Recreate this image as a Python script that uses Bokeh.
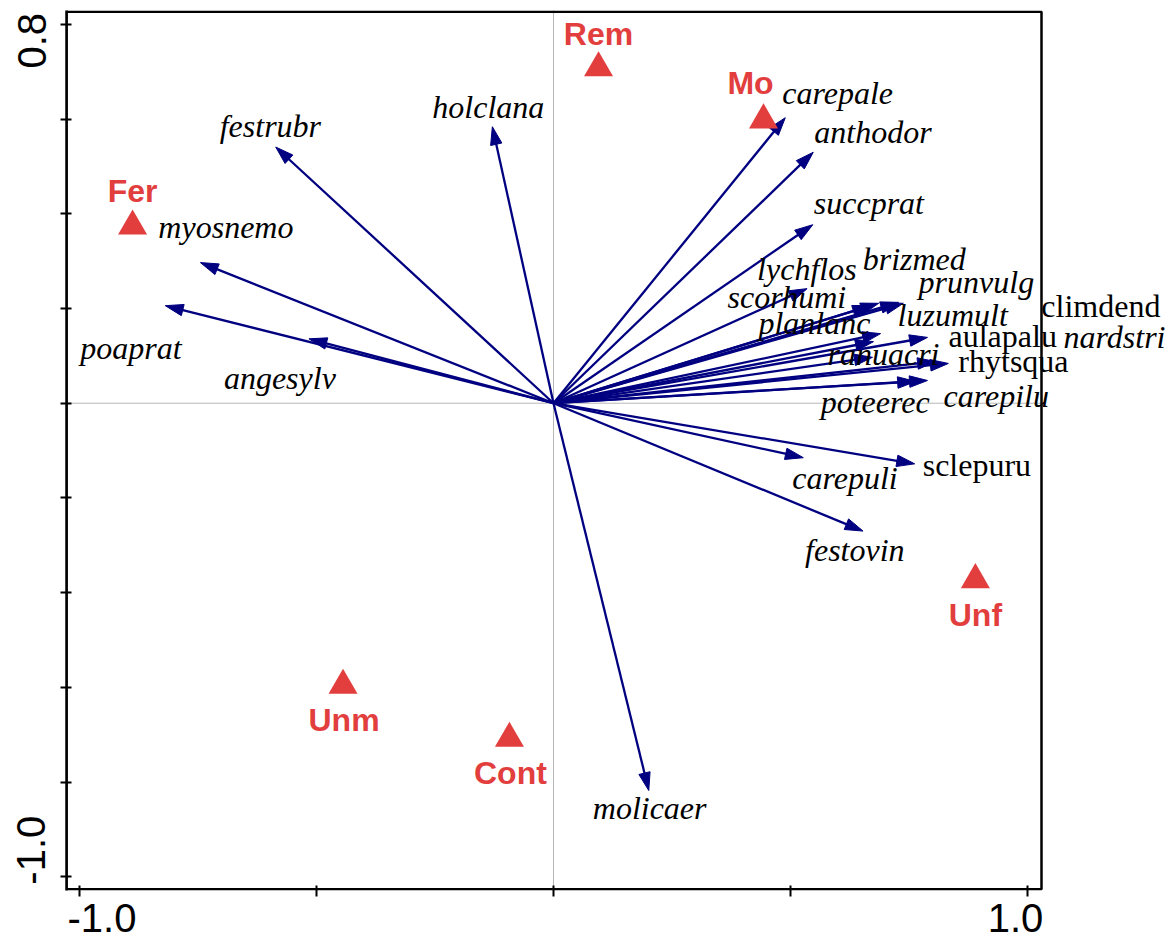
import math
from bokeh.plotting import figure
from bokeh.core.properties import value
from bokeh.models import (Range1d, FixedTicker, ColumnDataSource, LabelSet, Span,
                          LinearAxis, BoxAnnotation)
from bokeh.embed import file_html
from bokeh.resources import INLINE

# ---------------- data ----------------
species = ["festrubr", "myosnemo", "poaprat", "angesylv", "holclana", "carepale",
           "anthodor", "succprat", "lychflos", "brizmed", "prunvulg", "scorhumi",
           "climdend", "planlanc", "luzumult", "aulapalu", "nardstri", "ranuacri",
           "rhytsqua", "poteerec", "carepilu", "carepuli", "sclepuru", "festovin",
           "molicaer"]
species_ax1 = [-0.586, -0.745, -0.819, -0.516, -0.129, 0.489,
               0.548, 0.547, 0.535, 0.686, 0.728, 0.669,
               0.738, 0.675, 0.690, 0.789, 0.806, 0.673,
               0.833, 0.764, 0.789, 0.527, 0.762, 0.653,
               0.201]
species_ax2 = [0.541, 0.297, 0.206, 0.136, 0.584, 0.603,
               0.530, 0.377, 0.242, 0.211, 0.213, 0.206,
               0.211, 0.130, 0.147, 0.139, 0.088, 0.097,
               0.084, 0.046, 0.048, -0.115, -0.128, -0.270,
               -0.818]
mosses = ["climdend", "aulapalu", "rhytsqua", "sclepuru"]

groups = ["Rem", "Mo", "Fer", "Unf", "Unm", "Cont"]
group_ax1 = [0.095, 0.443, -0.888, 0.890, -0.444, -0.093]
group_ax2 = [0.708, 0.598, 0.374, -0.373, -0.596, -0.708]

x_ticks = [-1.0, -0.5, 0.0, 0.5, 1.0]
y_ticks = [-1.0, -0.8, -0.6, -0.4, -0.2, 0.0, 0.2, 0.4, 0.6, 0.8]
x_tick_labels = {-1.0: "-1.0", 1.0: "1.0"}
y_tick_labels = {0.8: "0.8", -1.0: "-1.0"}

# ---------------- layout / style ----------------
BOX_X = (-1.0274, 1.0295)     # visible plotting box
BOX_Y = (-1.0291, 0.8294)
BOX_W, BOX_H = 975, 880       # pixels of the box
B_LEFT, B_TOP, B_BOTTOM = 66, 10, 52
RIGHT_EXTRA = 128             # room right of the box for labels
NAVY = "#000080"
RED = "#E23E3E"
HEAD_L, HEAD_W = 18.0, 11.5
BORDER_W = 2.5

kx = BOX_W / (BOX_X[1] - BOX_X[0])
ky = BOX_H / (BOX_Y[1] - BOX_Y[0])
x_range_max = BOX_X[1] + RIGHT_EXTRA / kx

# label offsets in screen pixels (dx right, dy down) relative to arrow tips
species_label_dx = [-56, -42, -85, -85, -60, -3,
                    1, 1, -50, -16, 20, -143,
                    138, -115, 17, 21, 128, -45,
                    10, -95, 16, -11, 8, -58,
                    -56]
species_label_dy = [-10, -25, 53, 50, -9, -14,
                    -9, -11, -9, -33, -9, 2,
                    14, -8, -8, 10, -14, 8,
                    9, 32, 27, 31, 12, 30,
                    28]
group_label_dx = [0, -13, 0, 0, 1, 1]
group_label_dy = [-23, -26, -24, 46, 46, 46]
# tick labels sit slightly inside their ticks, as in the original
x_label_shift_px = {-1.0: 22.5, 1.0: -12}     # to the right (label centre)
y_label_shift_px = {0.8: 11.5, -1.0: 61}      # upwards (end of rotated label)

p = figure(width=B_LEFT + BOX_W + RIGHT_EXTRA, height=B_TOP + BOX_H + B_BOTTOM,
           x_range=Range1d(BOX_X[0], x_range_max), y_range=Range1d(*BOX_Y),
           output_backend="svg", toolbar_location=None,
           min_border_left=B_LEFT, min_border_right=0,
           min_border_top=B_TOP, min_border_bottom=B_BOTTOM,
           background_fill_color="white", border_fill_color="white")
p.grid.visible = False
p.outline_line_color = None

# inner axes: tick marks only
for ax, ticks in ((p.xaxis[0], x_ticks), (p.yaxis[0], y_ticks)):
    ax.ticker = FixedTicker(ticks=ticks, minor_ticks=[])
    ax.axis_line_width = BORDER_W
    ax.axis_line_color = "black"
    ax.major_tick_line_width = 2
    ax.major_tick_line_color = "black"
    ax.major_tick_out = 6
    ax.major_tick_in = 5
    ax.minor_tick_line_color = None
    ax.major_label_text_color = None
    ax.major_label_text_font_size = "1px"
    ax.major_label_standoff = 0
p.xaxis[0].axis_line_color = None   # bottom edge drawn by the box

# outer axes: tick labels only
xl_pos = {v: v + x_label_shift_px[v] / kx for v in x_tick_labels}
yl_pos = {v: v + y_label_shift_px[v] / ky for v in y_tick_labels}
xlab = LinearAxis(ticker=FixedTicker(ticks=list(xl_pos.values()), minor_ticks=[]),
                  major_label_overrides={xl_pos[v]: t for v, t in x_tick_labels.items()})
ylab = LinearAxis(ticker=FixedTicker(ticks=list(yl_pos.values()), minor_ticks=[]),
                  major_label_overrides={yl_pos[v]: t for v, t in y_tick_labels.items()},
                  major_label_orientation=math.pi / 2)
for ax, standoff in ((xlab, 1), (ylab, 23)):
    ax.axis_line_color = None
    ax.major_tick_line_color = None
    ax.minor_tick_line_color = None
    ax.major_label_text_font = "Liberation Sans"
    ax.major_label_text_font_size = "40px"
    ax.major_label_text_color = "black"
    ax.major_label_standoff = standoff
p.add_layout(xlab, "below")
p.add_layout(ylab, "left")

# plotting box
ex, ey = BORDER_W / 2 / kx, BORDER_W / 2 / ky
p.add_layout(BoxAnnotation(left=BOX_X[0], right=BOX_X[1], bottom=BOX_Y[0] + ey, top=BOX_Y[1] - ey,
                           fill_color=None, fill_alpha=0, line_color="black", line_alpha=1.0,
                           line_width=BORDER_W, level="overlay"))

# dotted zero lines
p.add_layout(Span(location=0, dimension="height", line_color="#6f6f6f",
                  line_width=1, line_dash="1 1", level="underlay"))
p.segment(x0=[BOX_X[0]], y0=[0], x1=[BOX_X[1]], y1=[0], line_color="#6f6f6f",
          line_width=1, line_dash="1 1")

# arrows: shafts and heads computed through the axis scales
x0s, y0s, xbs, ybs, head_xs, head_ys = [], [], [], [], [], []
for x, y in zip(species_ax1, species_ax2):
    px, py = x * kx, y * ky
    ln = math.hypot(px, py)
    ux, uy = px / ln, py / ln
    bx, by = px - HEAD_L * ux, py - HEAD_L * uy
    nx, ny = -uy, ux
    c1 = (bx + HEAD_W / 2 * nx, by + HEAD_W / 2 * ny)
    c2 = (bx - HEAD_W / 2 * nx, by - HEAD_W / 2 * ny)
    x0s.append(0.0); y0s.append(0.0)
    xbs.append((bx + 3 * ux) / kx); ybs.append((by + 3 * uy) / ky)
    head_xs.append([px / kx, c1[0] / kx, c2[0] / kx])
    head_ys.append([py / ky, c1[1] / ky, c2[1] / ky])

p.segment(x0=x0s, y0=y0s, x1=xbs, y1=ybs, line_color=NAVY, line_width=2.3)
p.patches(xs=head_xs, ys=head_ys, fill_color=NAVY, line_color=NAVY, line_width=1)

# group centroids
p.scatter(x=group_ax1, y=group_ax2, marker="triangle", size=29,
          fill_color=RED, line_color=None)

# species labels
for style, is_moss in (("italic", False), ("normal", True)):
    idx = [i for i, s in enumerate(species) if (s in mosses) == is_moss]
    src = ColumnDataSource(dict(
        x=[species_ax1[i] for i in idx], y=[species_ax2[i] for i in idx],
        t=[species[i] for i in idx],
        dx=[species_label_dx[i] for i in idx],
        dy=[-species_label_dy[i] for i in idx]))
    p.add_layout(LabelSet(x="x", y="y", text="t", source=src, x_offset="dx", y_offset="dy",
                          text_font=value("Liberation Serif"), text_font_style=style,
                          text_font_size="32px", text_color="black",
                          text_align="left", text_baseline="alphabetic"))

gsrc = ColumnDataSource(dict(x=group_ax1, y=group_ax2, t=groups,
                             dx=group_label_dx, dy=[-d for d in group_label_dy]))
p.add_layout(LabelSet(x="x", y="y", text="t", source=gsrc, x_offset="dx", y_offset="dy",
                      text_font=value("Liberation Sans"), text_font_style="bold",
                      text_font_size="32px", text_color=RED,
                      text_align="center", text_baseline="alphabetic"))

open("out.html", "w").write(file_html(p, INLINE))
